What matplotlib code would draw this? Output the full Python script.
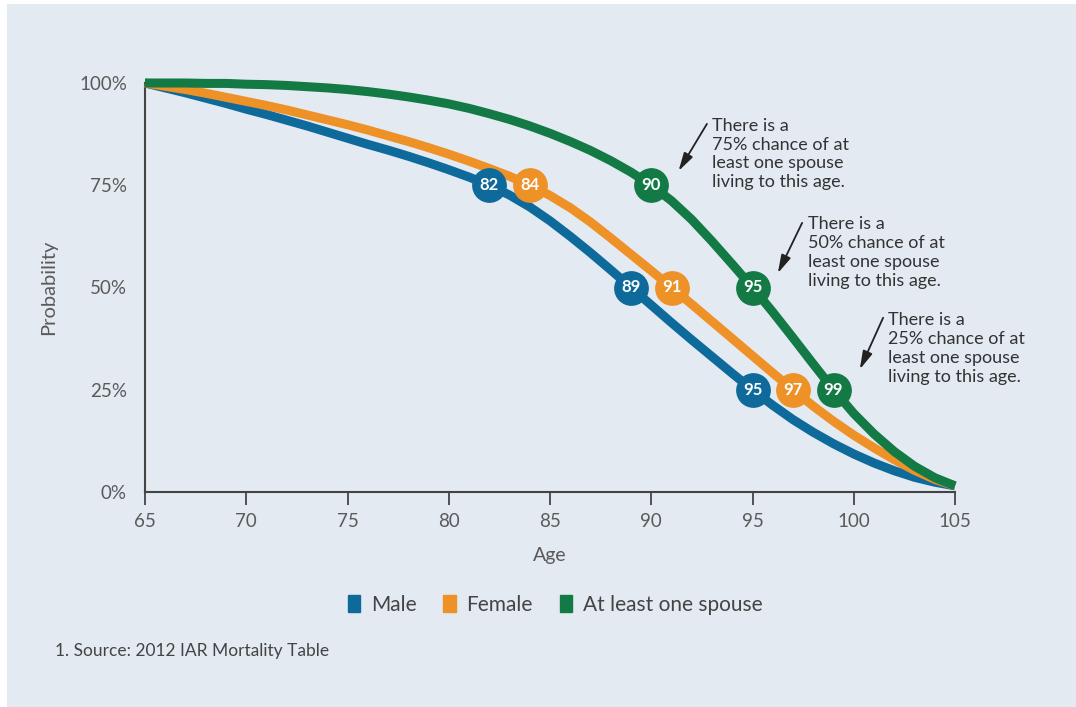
import matplotlib
matplotlib.use("Agg")
import matplotlib.pyplot as plt
from matplotlib.patches import Rectangle

plt.rcParams['font.family'] = ['Lato', 'DejaVu Sans']

# survival probability (%) by age, one value per year
ages = list(range(65, 106))
male_pct = [100, 98.8, 97.6, 96.3, 95.0, 93.6, 92.3, 90.9, 89.5, 88.0, 86.5,
            85.0, 83.6, 82.1, 80.5, 78.8, 77.0, 75.0, 72.6, 69.7, 66.3,
            62.5, 58.5, 54.3, 50.0, 45.7, 41.4, 37.2, 33.1, 29.0, 25.0,
            21.2, 17.7, 14.6, 11.8, 9.3, 7.1, 5.2, 3.6, 2.4, 1.5]
female_pct = [100, 99.2, 98.4, 97.5, 96.5, 95.5, 94.5, 93.4, 92.2, 91.0, 89.8,
              88.5, 87.1, 85.7, 84.2, 82.6, 80.9, 79.1, 77.2, 75.0, 72.5,
              69.5, 66.0, 62.1, 58.1, 54.1, 50.0, 45.9, 41.7, 37.5, 33.3,
              29.1, 25.0, 21.0, 17.3, 13.9, 10.8, 7.9, 5.3, 3.1, 1.5]
spouse_pct = [100, 100, 100, 99.9, 99.9, 99.7, 99.6, 99.4, 99.1, 98.8, 98.4,
              97.9, 97.3, 96.6, 95.8, 94.9, 93.8, 92.5, 91.1, 89.5, 87.7,
              85.7, 83.5, 81.0, 78.2, 75.0, 71.2, 66.6, 61.3, 55.7, 50.0,
              44.0, 37.7, 31.3, 25.0, 19.2, 14.2, 9.9, 6.3, 3.5, 1.5]

# ages where each curve crosses 75 / 50 / 25 %
levels = [75, 50, 25]
male_marks = [82, 89, 95]
female_marks = [84, 91, 97]
spouse_marks = [90, 95, 99]

notes = ["There is a\n75% chance of at\nleast one spouse\nliving to this age.",
         "There is a\n50% chance of at\nleast one spouse\nliving to this age.",
         "There is a\n25% chance of at\nleast one spouse\nliving to this age."]
note_xy = [(93.0, 91.5), (97.75, 67.5), (101.7, 44.0)]
arrow_tail = [(92.75, 90.0), (97.45, 65.8), (101.45, 42.6)]
arrow_head = [(91.35, 78.5), (96.25, 53.5), (100.3, 30.0)]

blue = '#0e6a9a'
orange = '#ee9127'
green = '#137a45'
bg = '#e3eaf2'
grey = '#5a5a5a'

fig = plt.figure(figsize=(10.76, 7.07), dpi=100, facecolor='white')
fig.patches.append(Rectangle((7 / 1076, 0), 1, 703 / 707, transform=fig.transFigure,
                             facecolor=bg, edgecolor='none', zorder=-10))
ax = fig.add_axes([145 / 1076, 1 - 492 / 707, 810 / 1076, 409 / 707])
ax.set_facecolor('none')

series = [(male_pct, male_marks, blue, 'Male'),
          (female_pct, female_marks, orange, 'Female'),
          (spouse_pct, spouse_marks, green, 'At least one spouse')]

for z, (pct, marks, col, name) in enumerate(series):
    ax.plot(ages, pct, color=col, lw=6.5, solid_capstyle='butt',
            solid_joinstyle='round', clip_on=False, zorder=2 + z)
    for a, lv in zip(marks, levels):
        ax.plot(a, lv, 'o', ms=24, color=col, clip_on=False, zorder=5 + z)
        ax.text(a, lv, str(a), color='white', fontsize=12, fontweight='bold',
                ha='center', va='center', zorder=8 + z)

for txt, xy, t, h in zip(notes, note_xy, arrow_tail, arrow_head):
    ax.text(xy[0], xy[1], txt, fontsize=13, color='#333333', va='top', ha='left',
            linespacing=1.22)
    ax.annotate('', xy=h, xytext=t,
                arrowprops=dict(arrowstyle='-|>,head_length=1.1,head_width=0.3',
                                color='#222222', lw=1.3, shrinkA=0, shrinkB=0))

ax.set_xlim(65, 105)
ax.set_ylim(0, 100)
ax.set_xticks(range(65, 106, 5))
ax.set_yticks([0, 25, 50, 75, 100])
ax.set_yticklabels(['0%', '25%', '50%', '75%', '100%'])
ax.tick_params(axis='x', length=9, width=1.3, color='#444444', direction='out',
               labelsize=13.5, labelcolor=grey, pad=6)
ax.tick_params(axis='y', length=0, labelsize=13.5, labelcolor=grey, pad=13)
for s in ['top', 'right']:
    ax.spines[s].set_visible(False)
for s in ['left', 'bottom']:
    ax.spines[s].set_color('#444444')
    ax.spines[s].set_linewidth(1.5)

ax.set_xlabel('Age', fontsize=14, color=grey, labelpad=12)
ax.set_ylabel('Probability', fontsize=14.5, color=grey, labelpad=16)

handles = [Rectangle((0, 0), 1, 1, color=c) for c in (blue, orange, green)]
fig.legend(handles, ['Male', 'Female', 'At least one spouse'], loc='center',
           bbox_to_anchor=(555 / 1076, 1 - 605 / 707), ncol=3, frameon=False,
           fontsize=15, handlelength=0.6, handleheight=0.9, handletextpad=0.5,
           columnspacing=1.3, labelcolor='#444444')

fig.text(55 / 1076, 1 - 651 / 707, '1. Source: 2012 IAR Mortality Table',
         fontsize=12.5, color='#444444', va='center')

fig.savefig('out.png', dpi=100, facecolor=fig.get_facecolor())
